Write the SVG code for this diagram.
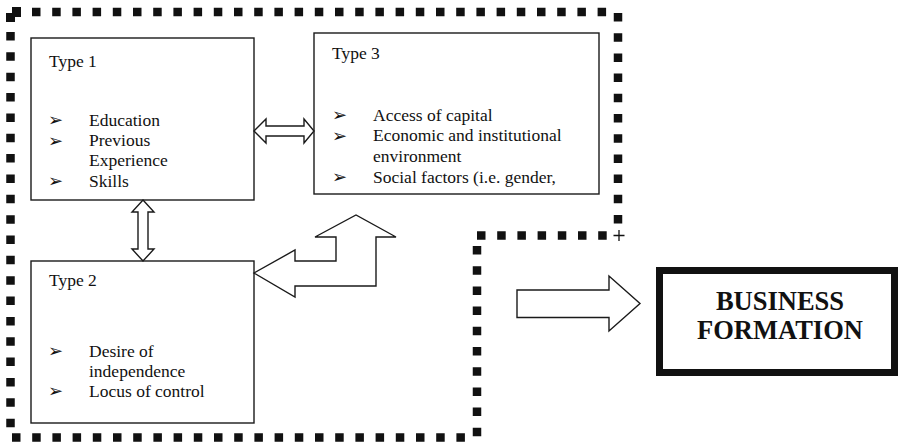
<svg xmlns="http://www.w3.org/2000/svg" width="901" height="443" viewBox="0 0 901 443">
<style>
.box{fill:#fff;stroke:#1a1a1a;stroke-width:1.4}
.arr{fill:#fff;stroke:#1a1a1a;stroke-width:1.4;stroke-linejoin:miter}
.dot{fill:none;stroke:#111;stroke-width:8.5;stroke-dasharray:8.5 11.7}
.t{font-family:"Liberation Serif","Times New Roman",serif;font-size:17.5px;fill:#111}
.b{font-family:"DejaVu Sans",sans-serif;font-size:18px;fill:#111}
.big{font-family:"Liberation Serif","Times New Roman",serif;font-size:26.5px;font-weight:bold;fill:#111;text-anchor:middle}
</style>
<rect width="901" height="443" fill="#fff"/>
<g id="border">
<path class="dot" d="M32 12H607"/>
<path class="dot" d="M618 13V226"/>
<path class="dot" d="M477 235.5H608"/>
<path class="dot" d="M477 246V438"/>
<path class="dot" d="M12 437.5H467"/>
<path class="dot" style="stroke-dasharray:8.5 11.85" d="M10.5 32V429"/>
<rect x="12" y="7" width="9" height="10" fill="#111"/>
<rect x="6" y="13" width="9" height="9" fill="#111"/>
<path d="M613.5 235.5H624.5M619 230V241" stroke="#111" stroke-width="1.3" fill="none"/>
</g>
<g id="type1">
<rect class="box" x="31" y="38" width="223" height="162"/>
<text class="t" x="49" y="67">Type 1</text>
<text class="b" x="48" y="126">➢</text><text class="t" x="89" y="125.5">Education</text>
<text class="b" x="48" y="146.5">➢</text><text class="t" x="89" y="146">Previous</text>
<text class="t" x="89" y="166">Experience</text>
<text class="b" x="48" y="187">➢</text><text class="t" x="89" y="186.5">Skills</text>
</g>
<g id="type3">
<rect class="box" x="314" y="33" width="285" height="161"/>
<text class="t" x="332" y="58.5">Type 3</text>
<text class="b" x="332" y="121">➢</text><text class="t" x="373" y="120.5">Access of capital</text>
<text class="b" x="332" y="141.5">➢</text><text class="t" x="373" y="141">Economic and institutional</text>
<text class="t" x="373" y="161.5">environment</text>
<text class="b" x="332" y="183">➢</text><text class="t" x="373" y="182.5">Social factors (i.e. gender,</text>
</g>
<g id="type2">
<rect class="box" x="31" y="261" width="223" height="162"/>
<text class="t" x="49" y="286">Type 2</text>
<text class="b" x="48" y="357">➢</text><text class="t" x="89" y="356.5">Desire of</text>
<text class="t" x="89" y="376.5">independence</text>
<text class="b" x="48" y="397">➢</text><text class="t" x="89" y="396.5">Locus of control</text>
</g>
<g id="business">
<rect x="659.5" y="270.5" width="235" height="102" fill="#fff" stroke="#111" stroke-width="7"/>
<text class="big" x="780" y="309.5">BUSINESS</text>
<text class="big" x="780" y="338.5">FORMATION</text>
</g>
<g id="connectors">
<path class="arr" d="M254 131L266 119V126H304V119L314 131L304 143V136H266V143Z"/>
<path class="arr" d="M143 200L154 212H148V249H154L143 261L132 249H138V212H132Z"/>
<path class="arr" d="M254 273L295 250V261H336V237H315L356 215L396 237H376V286H295V297Z"/>
<path class="arr" d="M517 290H609V276L640 303.5L609 331V317.5H517Z"/>
</g>
</svg>
